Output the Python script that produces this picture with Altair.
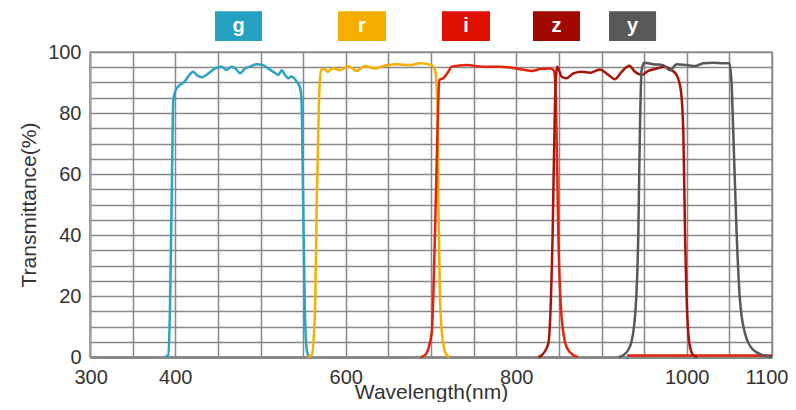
import altair as alt
import pandas as pd

# ---- data ----
filters = ["g", "r", "i", "z", "y"]
line_colors = ["#2aa3c4", "#f5b000", "#e5220c", "#a8120a", "#585858"]
box_colors = ["#24a0c0", "#f5ae00", "#e01000", "#a00800", "#595959"]

g_nm = [388, 391.8, 393.8, 395.8, 397.7, 400.5, 405.6, 411, 415, 421, 425, 431, 439, 446.6, 454.5,
        460, 466, 471, 476, 481.8, 487.7, 495.5, 503, 509, 515, 521, 525, 528.7, 532.6, 536.6,
        542.4, 546, 548, 550, 552, 554, 556, 560]
g_T = [0, 0.6, 16, 51.5, 84, 87.5, 89.2, 90.3, 91.9, 93.5, 92.5, 91.7, 93, 94.6, 95.2,
       94.1, 95.2, 94.5, 93, 94.6, 95.2, 96, 95.7, 94.6, 93.5, 92.5, 94, 92.5, 91.4, 92,
       90.3, 88.6, 85, 51.5, 16, 3, 0.6, 0]

r_nm = [556, 560, 564, 566, 568.6, 571, 575, 579, 585, 593, 603, 612.7, 622.6, 634, 645, 659.7,
        675.4, 687, 700.8, 704.7, 707.5, 708.6, 710.6, 713.7, 718.4, 722]
r_T = [0, 0.6, 16, 51.5, 84, 94, 94.5, 93.5, 94.7, 94, 95.4, 93.8, 95.4, 94.6, 95.5, 96,
       95.7, 96.3, 95.7, 94, 84, 51.5, 18.7, 5.6, 0.6, 0]

i_nm = [688, 693, 700.8, 704.7, 707.5, 709.8, 714.4, 720.3, 724.2, 741.8, 761, 781, 800.4, 818,
        827.9, 839.6, 844, 846.6, 849.3, 853.2, 859, 867, 872]
i_T = [0, 0.6, 7.8, 40.6, 73.4, 90.8, 91.4, 93.5, 95.2, 95.7, 95.2, 95.2, 94.6, 93.8,
       94.4, 94.6, 94, 84, 40.6, 13, 3.3, 0.6, 0]
i_tail_nm = [930, 1100]
i_tail_T = [0.5, 0.5]

z_nm = [826, 830, 837.7, 842.7, 845.5, 848, 853.3, 859, 867, 876.7, 886.5, 898, 908, 915.8,
        923.6, 932.6, 939.3, 947, 955, 964.7, 974.5, 982.3, 988, 993, 996, 998, 1000.7, 1003.8,
        1007.7, 1012]
z_T = [0, 0.6, 4.5, 40.6, 84, 95.2, 91.9, 91.4, 93, 93.5, 93.2, 94.3, 92.5, 91.1,
       93.5, 95.5, 93.5, 92.5, 93.8, 94.6, 95.2, 94, 92.5, 87.5, 73.4, 40.6, 13, 3.3,
       0.6, 0]

y_nm = [920, 925.5, 933.4, 939.3, 943.2, 945, 947, 950, 960.7, 972.4, 980.4, 988.2, 999.8,
        1009.7, 1019.4, 1031, 1042.8, 1050, 1052.6, 1054.6, 1058.5, 1062.4, 1068.3, 1078,
        1089.7, 1100]
y_T = [0, 0.6, 3.4, 13.2, 40.6, 73.4, 94, 96.5, 96, 95.7, 94, 96, 95.7,
       95.4, 96.3, 96.5, 96.3, 96.3, 89.7, 73.4, 40.6, 18.7, 7.8, 2.3,
       0.6, 0]

x_ticks = list(range(300, 1101, 50))
x_labels = [300, 400, 600, 800, 1000, 1100]
y_ticks = list(range(0, 101, 5))

# legend box layout (in data units, above the plot)
leg_x0 = [446.6, 590.9, 712.9, 819.6, 908.8]
leg_x1 = [501.8, 647.2, 769.2, 874.8, 964.0]
leg_y0, leg_y1 = 103.6, 113.4

# ---- build tables ----
rows = []
series = [("g", "g", g_nm, g_T), ("r", "r", r_nm, r_T), ("i", "i", i_nm, i_T),
          ("i", "i_tail", i_tail_nm, i_tail_T), ("z", "z", z_nm, z_T), ("y", "y", y_nm, y_T)]
k = 0
for f, seg, xs, ts in series:
    for x, t in zip(xs, ts):
        rows.append({"filter": f, "segment": seg, "nm": x, "T": t, "idx": k})
        k += 1
df = pd.DataFrame(rows)

leg = pd.DataFrame({"filter": filters, "x0": leg_x0, "x1": leg_x1,
                    "y0": [leg_y0] * 5, "y1": [leg_y1] * 5})
leg["xc"] = (leg["x0"] + leg["x1"]) / 2
leg["yc"] = (leg["y0"] + leg["y1"]) / 2

font = "Liberation Sans"
xscale = alt.Scale(domain=[300, 1100], nice=False, zero=False)
yscale = alt.Scale(domain=[0, 100], nice=False)

label_expr = "indexof(" + str(x_labels) + ", datum.value) >= 0 ? datum.label : ''"

x_axis = alt.Axis(values=x_ticks, labelExpr=label_expr, format="d", title="Wavelength(nm)",
                  grid=True, ticks=False, labelPadding=10,
                  titleY=41, titleBaseline="alphabetic", titleFontSize=21,
                  domainColor="#8a8a8a", domainWidth=3,
                  labelFlush=True, labelFlushOffset=16, labelOverlap=False)
y_axis = alt.Axis(values=y_ticks, labelExpr="datum.value % 20 == 0 ? datum.label : ''",
                  title="Transmittance(%)", grid=True, ticks=False, labelPadding=9,
                  titleFontSize=21, titlePadding=8,
                  domainColor="#9a9a9a", domainWidth=2, labelOverlap=False)

lines = alt.Chart(df).mark_line(strokeWidth=2.5, interpolate="monotone").encode(
    x=alt.X("nm:Q", scale=xscale, axis=x_axis),
    y=alt.Y("T:Q", scale=yscale, axis=y_axis),
    color=alt.Color("filter:N", scale=alt.Scale(domain=filters, range=line_colors), legend=None),
    detail="segment:N",
    order="idx:Q",
)

boxes = alt.Chart(leg).mark_rect().encode(
    x=alt.X("x0:Q", axis=x_axis, title="Wavelength(nm)"), x2="x1:Q",
    y=alt.Y("y0:Q", axis=y_axis, title="Transmittance(%)"), y2="y1:Q",
    fill=alt.Fill("filter:N", scale=alt.Scale(domain=filters, range=box_colors), legend=None),
)

texts = alt.Chart(leg).mark_text(color="white", fontSize=20, fontWeight="bold", font=font,
                                 baseline="middle", align="center").encode(
    x=alt.X("xc:Q", axis=x_axis, title="Wavelength(nm)"),
    y=alt.Y("yc:Q", axis=y_axis, title="Transmittance(%)"),
    text="filter:N")

chart = alt.layer(lines, boxes, texts).resolve_scale(color="independent").properties(
    width=682, height=305,
    autosize=alt.AutoSizeParams(type="none"),
    padding={"left": 82, "top": 44, "right": 16, "bottom": 45},
).configure_view(stroke="#9a9a9a", strokeWidth=1.5).configure_axis(
    gridColor="#888888", gridWidth=1.5, gridOpacity=1,
    labelFont=font, labelFontSize=20, labelColor="#333333",
    titleFont=font, titleFontSize=20, titleColor="#333333", titleFontWeight="normal",
)

chart.save("out.html", embed_options={"renderer": "svg", "actions": False})
